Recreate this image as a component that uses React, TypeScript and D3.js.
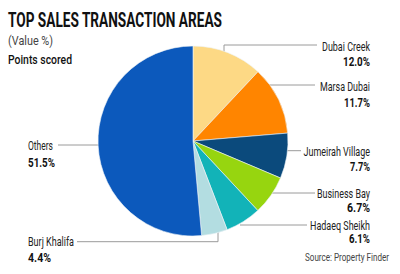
import React from "react";
import * as d3 from "d3";

const categories = ["Dubai Creek", "Marsa Dubai", "Jumeirah Village", "Business Bay", "Hadaeq Sheikh", "Burj Khalifa", "Others"];
const values = [12.0, 11.7, 7.7, 6.7, 6.1, 4.4, 51.5];
const colors = ["#FDD985", "#FF8500", "#0B4A7C", "#97D50F", "#12B3B8", "#B3DDE1", "#0C59BC"];

const W = 400;
const H = 274;
const cx = 193;
const cy = 141;
const R = 95;

// label layout (positions only)
const layout = [
  { x: 370, anchor: "end", nameY: 50.5, pctY: 65.5, nameW: 48, pctW: 27, line: "M224,54V45H317" },
  { x: 370, anchor: "end", nameY: 90.5, pctY: 106.5, nameW: 50, pctW: 26, line: "M262,85H315" },
  { x: 370, anchor: "end", nameY: 155.5, pctY: 170.5, nameW: 66.5, pctW: 20, line: "M280,150.7H301" },
  { x: 370, anchor: "end", nameY: 197.5, pctY: 212.3, nameW: 53, pctW: 23, line: "M270,193H315" },
  { x: 370, anchor: "end", nameY: 229.5, pctY: 243.3, nameW: 60, pctW: 21, line: "M240,225H307" },
  { x: 28, anchor: "start", nameY: 246, pctY: 261.5, nameW: 46, pctW: 23, line: "M77,241.7H218V232" },
  { x: 28, anchor: "start", nameY: 150, pctY: 166.5, nameW: 25, pctW: 27, line: "M58,145H105" },
];

export default function App() {
  const pie = d3.pie<number>().sort(null).value((d) => d);
  const arcs = pie(values);
  const arc = d3.arc<d3.PieArcDatum<number>>().innerRadius(0).outerRadius(R);
  const font = "Roboto, 'Liberation Sans', sans-serif";
  return (
    <svg
      width={W}
      height={H}
      style={{ position: "absolute", left: 0, top: 0, background: "#fff", display: "block" }}
      fontFamily={font}
    >
      <rect width={W} height={H} fill="#fff" />
      <text x={8} y={26.7} fontSize={21} fontWeight={700} fill="#111" textLength={214} lengthAdjust="spacingAndGlyphs">
        TOP SALES TRANSACTION AREAS
      </text>
      <text x={8} y={45} fontSize={13.5} fill="#444" textLength={45} lengthAdjust="spacingAndGlyphs">
        (Value %)
      </text>
      <text x={8} y={63.5} fontSize={12} fontWeight={500} fill="#111" textLength={64} lengthAdjust="spacingAndGlyphs">
        Points scored
      </text>
      {layout.map((l, i) => (
        <path key={"l" + i} d={l.line} fill="none" stroke="#9a9a9a" strokeWidth={1} />
      ))}
      <g transform={`translate(${cx},${cy})`}>
        {arcs.map((a, i) => (
          <path key={i} d={arc(a) || ""} fill={colors[i]} stroke="#eef3f6" strokeWidth={0.6} />
        ))}
      </g>
      {layout.map((l, i) => (
        <g key={"t" + i}>
          <text x={l.x} y={l.nameY} fontSize={13} fill="#222" textAnchor={l.anchor} textLength={l.nameW} lengthAdjust="spacingAndGlyphs">
            {categories[i]}
          </text>
          <text x={l.x} y={l.pctY} fontSize={13.5} fontWeight={700} fill="#111" textAnchor={l.anchor} textLength={l.pctW} lengthAdjust="spacingAndGlyphs">
            {values[i].toFixed(1) + "%"}
          </text>
        </g>
      ))}
      <text x={389} y={261} fontSize={11} fill="#444" textAnchor="end" textLength={84} lengthAdjust="spacingAndGlyphs">
        Source: Property Finder
      </text>
    </svg>
  );
}
